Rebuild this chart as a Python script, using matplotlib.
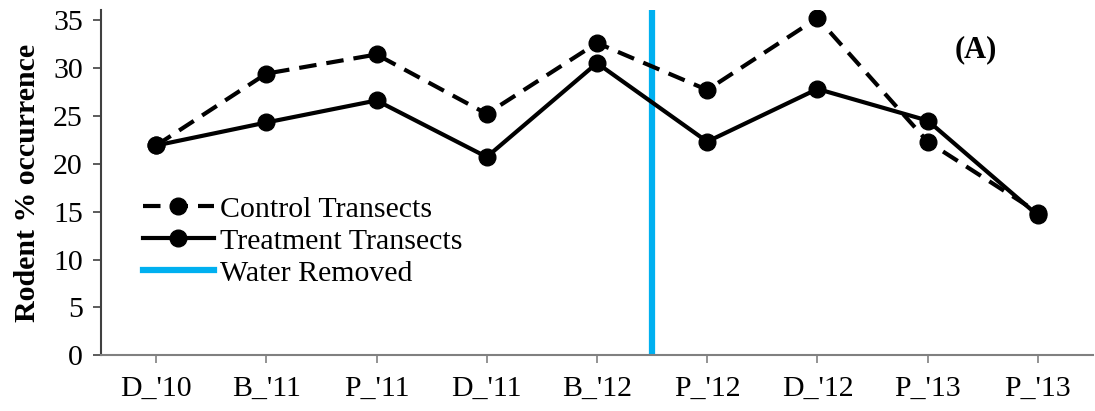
import matplotlib
matplotlib.use("Agg")
import matplotlib.pyplot as plt

plt.rcParams['font.family'] = ['Liberation Serif', 'DejaVu Serif']

periods = ["D_'10", "B_'11", "P_'11", "D_'11", "B_'12", "P_'12", "D_'12", "P_'13", "P_'13"]
control = [21.9, 29.4, 31.4, 25.2, 32.6, 27.7, 35.2, 22.3, 14.9]
treatment = [21.9, 24.3, 26.6, 20.7, 30.5, 22.3, 27.8, 24.5, 14.6]
removal_position = 4.5
y_ticks = [0, 5, 10, 15, 20, 25, 30, 35]

fig = plt.figure(figsize=(10.95, 4.11), dpi=100)
ax = fig.add_axes([0.0922, 0.1355, 0.906, 0.8392])

x = list(range(len(periods)))
ax.plot(x, control, color='black', lw=3.0, ls=(0, (4.2, 2.4)), marker='o',
        ms=12, label='Control Transects', zorder=3)
ax.plot(x, treatment, color='black', lw=3.0, ls='-', marker='o',
        ms=12, label='Treatment Transects', zorder=3)
ax.axvline(removal_position, color='#00B0F0', lw=4.5, label='Water Removed', zorder=2)

ax.set_xlim(-0.5, len(periods) - 0.5)
ax.set_ylim(0, 36)
ax.set_yticks(y_ticks)
ax.set_xticks(x)
ax.set_xticklabels(periods)
ax.tick_params(axis='both', labelsize=21.5, direction='out')
ax.tick_params(axis='x', length=6, width=1.2, color='#808080', pad=9)
ax.tick_params(axis='y', length=6, width=1.2, color='#404040', pad=7)

for side in ('top', 'right'):
    ax.spines[side].set_visible(False)
ax.spines['bottom'].set_color('#808080')
ax.spines['bottom'].set_linewidth(1.5)
ax.spines['left'].set_color('#404040')
ax.spines['left'].set_linewidth(1.5)

ax.set_ylabel('Rodent % occurrence', fontsize=21.5, fontweight='bold', labelpad=9)

ax.text(0.882, 0.885, '(A)', transform=ax.transAxes, fontsize=22,
        fontweight='bold', ha='center', va='center')

leg = ax.legend(loc='center left', bbox_to_anchor=(0.042, 0.331), frameon=False,
                fontsize=21.5, handlelength=2.4, handletextpad=0.2,
                labelspacing=0.17, borderpad=0, borderaxespad=0)

fig.savefig('out.png', dpi=100)
